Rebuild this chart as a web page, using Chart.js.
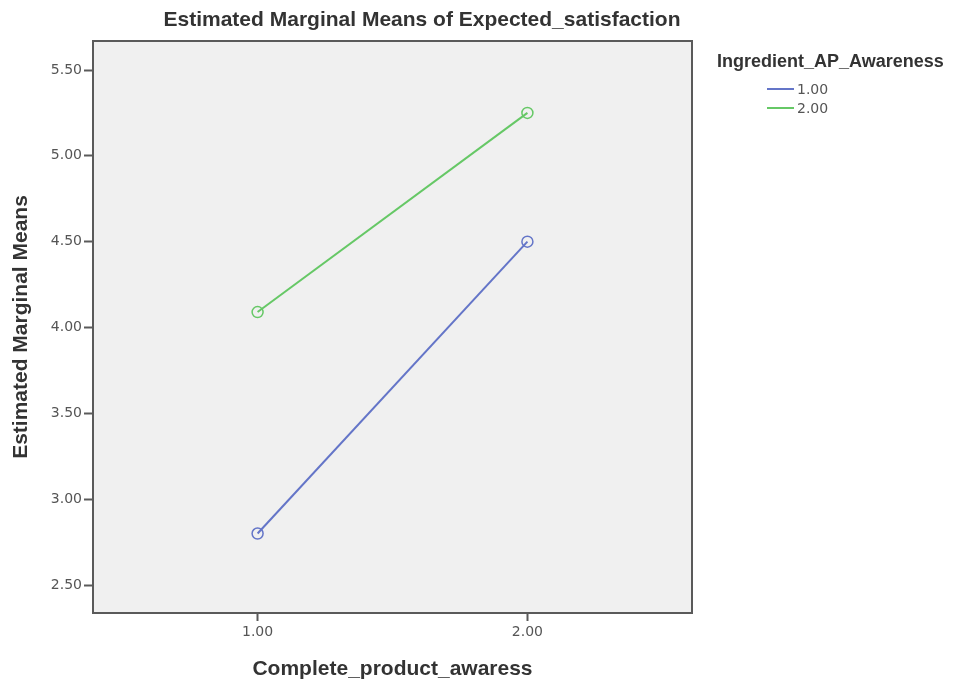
<!DOCTYPE html>
<html>
<head>
<meta charset="utf-8">
<script src="https://cdn.jsdelivr.net/npm/chart.js@4"></script>
<style>
  html, body { margin: 0; padding: 0; background: #ffffff; }
  #wrap { width: 956px; height: 682px; }
</style>
</head>
<body>
<div id="wrap"><canvas id="myChart" width="956" height="682"></canvas></div>
<script>
// datos
const chartTitle = "Estimated Marginal Means of Expected_satisfaction";
const legendTitle = "Ingredient_AP_Awareness";
const xTitle = "Complete_product_awaress";
const yTitle = "Estimated Marginal Means";

const xValues = [1.00, 2.00];
const seriesNames = ["1.00", "2.00"];
const serie1 = [2.80, 4.50];
const serie2 = [4.09, 5.25];
const xTicks = [1.00, 2.00];
const yTicks = [2.50, 3.00, 3.50, 4.00, 4.50, 5.00, 5.50];

const colores = ["#6475c8", "#66c866"];

const FUENTE_TIT = "'Liberation Sans', Arial, sans-serif";
const FUENTE_TXT = "'DejaVu Sans', Verdana, sans-serif";

const toPoints = (vals) => vals.map((v, i) => ({x: xValues[i], y: v}));

// fondo gris y marco del area de trazado, titulo y leyenda
const marcoPlugin = {
    id: "marco",
    beforeDraw: (chart) => {
        const {ctx, chartArea: a} = chart;
        ctx.save();
        ctx.fillStyle = "#f0f0f0";
        ctx.fillRect(a.left, a.top, a.right - a.left, a.bottom - a.top);
        ctx.restore();
    },
    afterDraw: (chart) => {
        const {ctx, chartArea: a} = chart;
        ctx.save();
        ctx.strokeStyle = "#5a5a5a";
        ctx.lineWidth = 2;
        ctx.strokeRect(a.left, a.top, a.right - a.left, a.bottom - a.top);

        // titulo
        ctx.fillStyle = "#333333";
        ctx.font = `bold 21px ${FUENTE_TIT}`;
        ctx.textAlign = "center";
        ctx.textBaseline = "middle";
        ctx.fillText(chartTitle, 422, 20);

        // leyenda
        ctx.textAlign = "left";
        ctx.font = `bold 18px ${FUENTE_TIT}`;
        ctx.fillText(legendTitle, 717, 62);
        ctx.font = `14px ${FUENTE_TXT}`;
        chart.data.datasets.forEach((ds, i) => {
            const y = 89 + i * 19;
            ctx.strokeStyle = ds.borderColor;
            ctx.lineWidth = 2;
            ctx.beginPath();
            ctx.moveTo(767, y);
            ctx.lineTo(794, y);
            ctx.stroke();
            ctx.fillStyle = "#555555";
            ctx.fillText(ds.label, 797, y + 1);
        });
        ctx.restore();
    }
};

const ctx = document.getElementById("myChart").getContext("2d");

const myChart = new Chart(ctx, {
    type: "line",
    data: {
        datasets: [
            {
                label: seriesNames[0],
                data: toPoints(serie1),
                borderColor: colores[0],
                backgroundColor: "rgba(0,0,0,0)",
                borderWidth: 2,
                pointRadius: 5.5,
                pointBorderWidth: 1.5,
                pointBackgroundColor: "rgba(0,0,0,0)"
            },
            {
                label: seriesNames[1],
                data: toPoints(serie2),
                borderColor: colores[1],
                backgroundColor: "rgba(0,0,0,0)",
                borderWidth: 2,
                pointRadius: 5.5,
                pointBorderWidth: 1.5,
                pointBackgroundColor: "rgba(0,0,0,0)"
            }
        ]
    },
    options: {
        responsive: false,
        animation: false,
        layout: {
            padding: {top: 41, right: 264, left: 0, bottom: 0}
        },
        plugins: {
            legend: {display: false},
            title: {display: false},
            tooltip: {enabled: false}
        },
        scales: {
            x: {
                type: "linear",
                min: 0.39,
                max: 2.61,
                afterBuildTicks: (scale) => {
                    scale.ticks = xTicks.map((v) => ({value: v}));
                },
                afterFit: (scale) => {
                    scale.height = 69;
                },
                grid: {
                    drawOnChartArea: false,
                    drawTicks: true,
                    tickLength: 8,
                    tickColor: "#5a5a5a",
                    tickWidth: 2
                },
                border: {display: false},
                ticks: {
                    color: "#555555",
                    padding: 3,
                    maxRotation: 0,
                    font: {family: FUENTE_TXT, size: 14},
                    callback: (v) => Number(v).toFixed(2)
                },
                title: {
                    display: true,
                    text: xTitle,
                    color: "#333333",
                    padding: {top: 0, bottom: 0},
                    font: {family: FUENTE_TIT, size: 21, weight: "bold"}
                }
            },
            y: {
                type: "linear",
                min: 2.337,
                max: 5.669,
                afterBuildTicks: (scale) => {
                    scale.ticks = yTicks.map((v) => ({value: v}));
                },
                afterFit: (scale) => {
                    scale.width = 93;
                },
                grid: {
                    drawOnChartArea: false,
                    drawTicks: true,
                    tickLength: 9,
                    tickColor: "#5a5a5a",
                    tickWidth: 2
                },
                border: {display: false},
                ticks: {
                    color: "#555555",
                    padding: 2,
                    font: {family: FUENTE_TXT, size: 14},
                    callback: (v) => Number(v).toFixed(2)
                },
                title: {
                    display: true,
                    text: yTitle,
                    color: "#333333",
                    padding: {top: 9, bottom: 0},
                    font: {family: FUENTE_TIT, size: 21, weight: "bold"}
                }
            }
        }
    },
    plugins: [marcoPlugin]
});
</script>
</body>
</html>
